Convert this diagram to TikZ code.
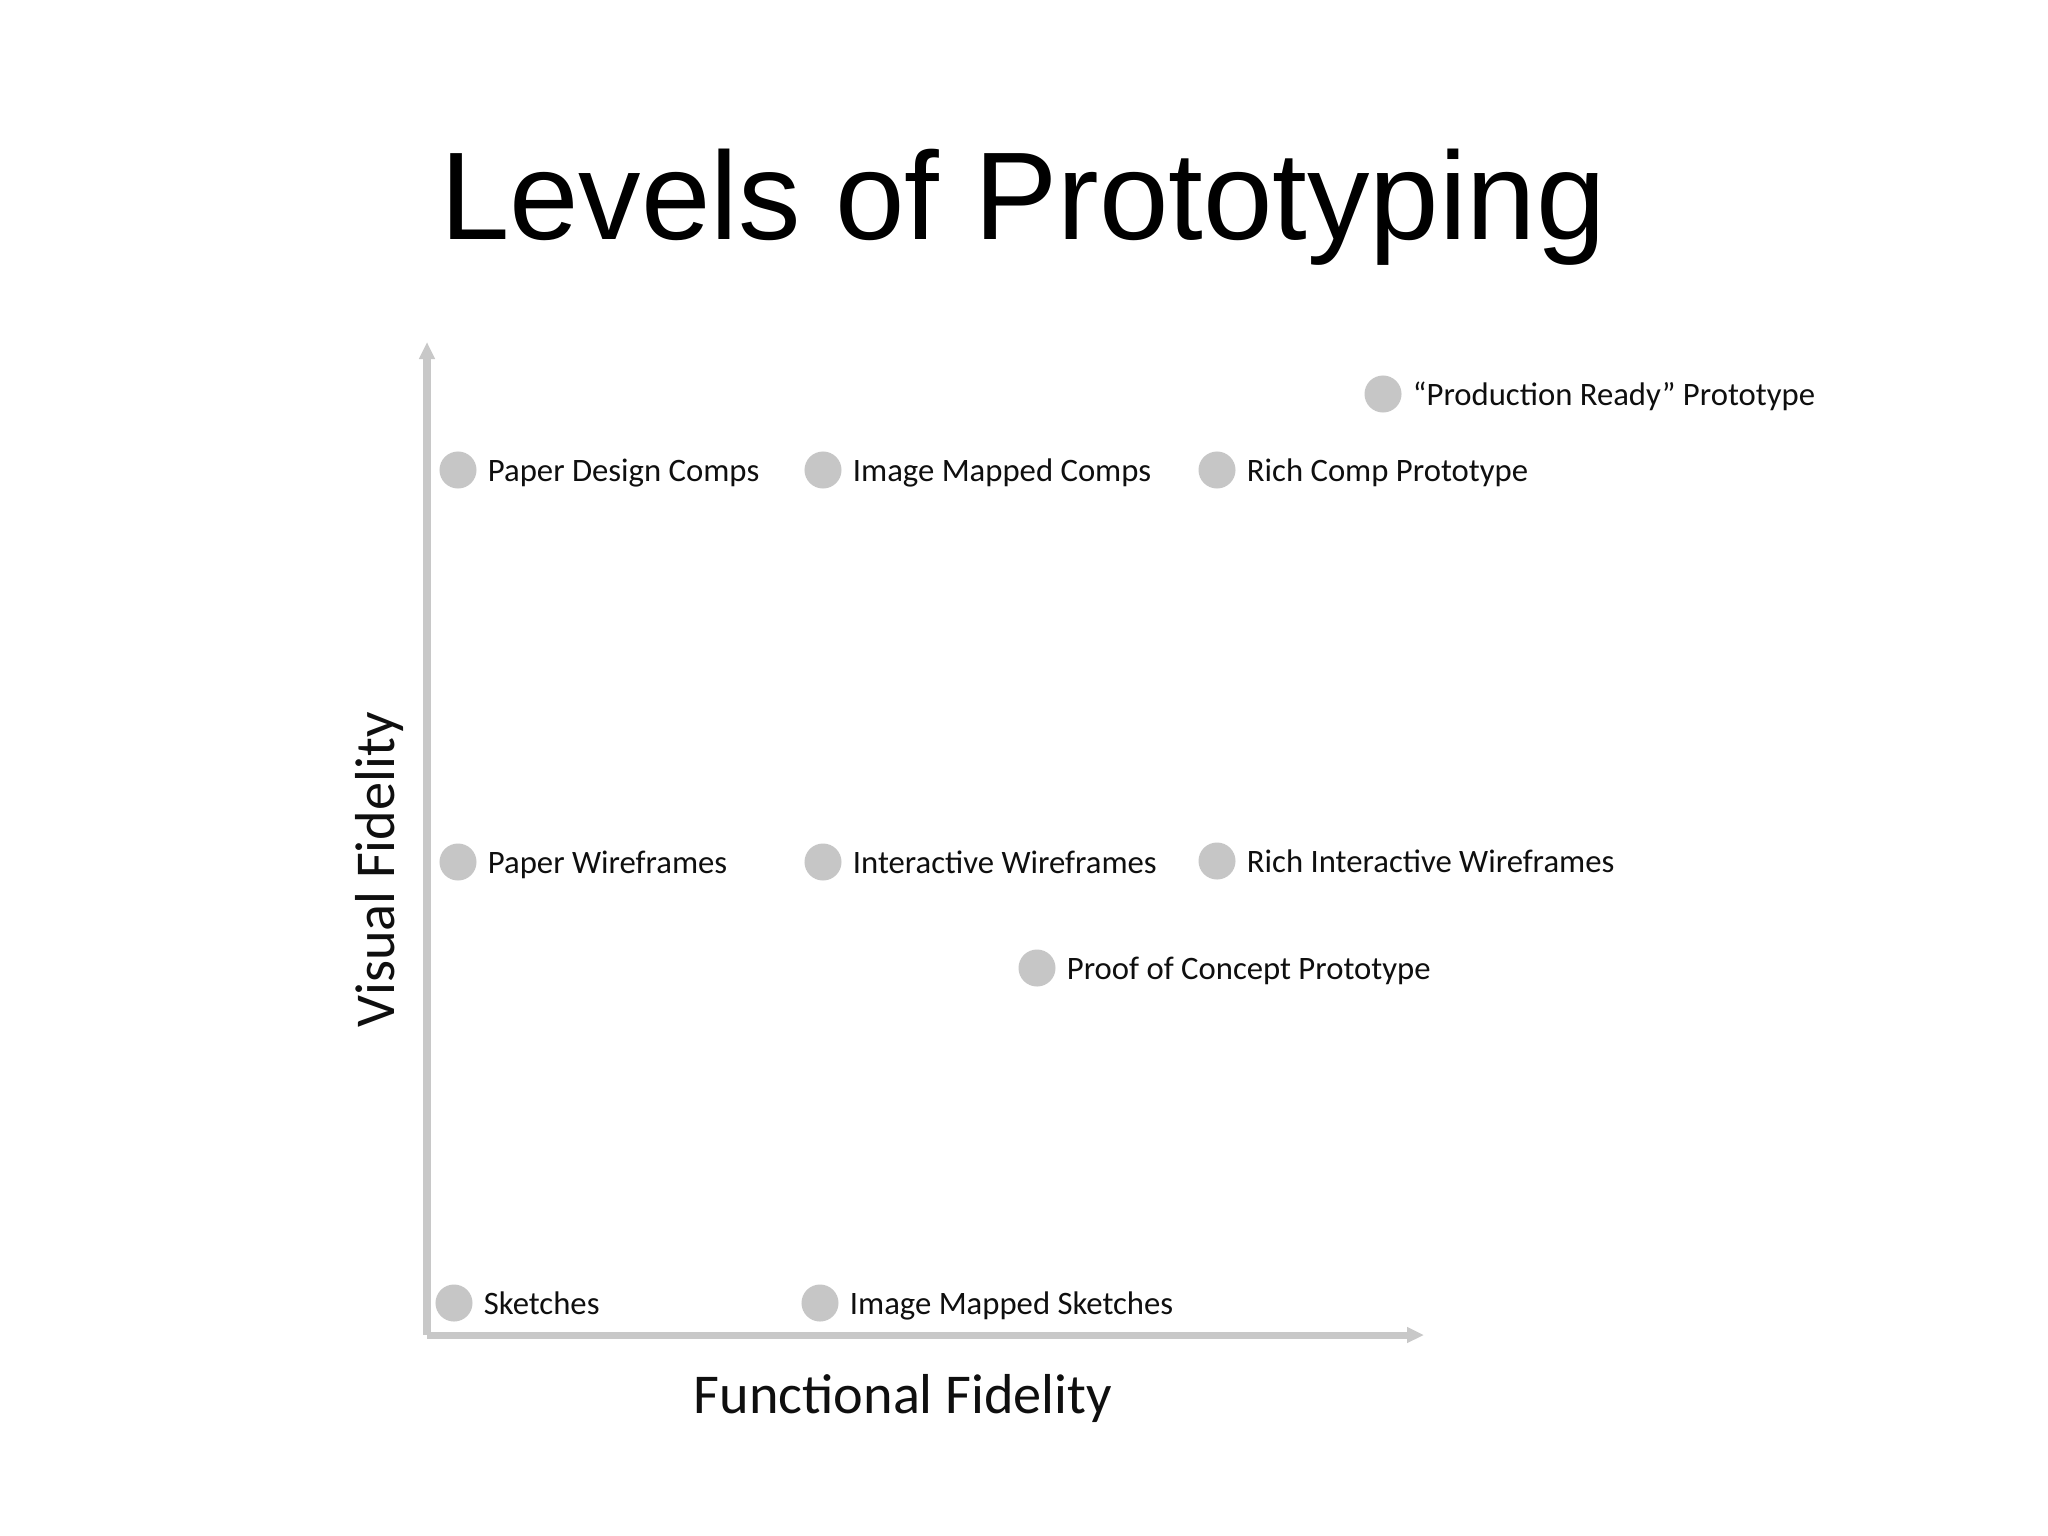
\documentclass[tikz,border=0pt]{standalone}
\usepackage{fontspec}
\setmainfont{Carlito}
\newfontfamily\titlefont{Liberation Sans}
\usetikzlibrary{positioning,arrows.meta}
\definecolor{axisgray}{RGB}{200,200,200}
\definecolor{dotgray}{RGB}{198,198,198}
\definecolor{inkgray}{RGB}{15,15,15}
\tikzset{
  dot/.style={circle,fill=dotgray,minimum size=0.37cm,inner sep=0pt},
  lbl/.style={right=0.1cm of #1,anchor=west,inner sep=0pt,text height=0.64em,text depth=0pt,
    text=inkgray,font=\fontsize{9.3}{11}\selectfont},
  axis/.style={draw=axisgray,line width=2pt,-{Triangle[length=0.17cm,width=0.15cm]}},
  axislbl/.style={anchor=base,text=inkgray,font=\fontsize{16}{19}\selectfont}
}
\begin{document}
\begin{tikzpicture}[x=0.01cm,y=-0.01cm]
\useasboundingbox[fill=white] (0,0) rectangle (2048,1536);
\node[anchor=base,font=\titlefont\fontsize{35.5}{42}\selectfont] (title) at (1023,239) {Levels of Prototyping};
% axes
\coordinate (o) at (427,1335);
\coordinate (ytip) at (427,342);
\coordinate (xtip) at (1424,1335);
\draw[axis] (o) -- (ytip);
\draw[axis] (o) -- (xtip);
\node[axislbl] (xlbl) at (903,1413) {Functional Fidelity};
\node[axislbl,rotate=90] (ylbl) at (394,870) {Visual Fidelity};
% prototypes
\foreach \n/\x/\y/\t in {pdc/458/470/Paper Design Comps,
    imc/823/470/Image Mapped Comps,
    rcp/1217/470/Rich Comp Prototype,
    prp/1383/394/“Production Ready” Prototype,
    pwf/458/862/Paper Wireframes,
    iwf/823/862/Interactive Wireframes,
    riw/1217/861/Rich Interactive Wireframes,
    poc/1037/968/Proof of Concept Prototype,
    sk/454/1303/Sketches,
    ims/820/1303/Image Mapped Sketches} {
  \node[dot] (\n) at (\x,\y) {};
  \node[lbl=\n] (\n-t) {\t};
}
\end{tikzpicture}
\end{document}
